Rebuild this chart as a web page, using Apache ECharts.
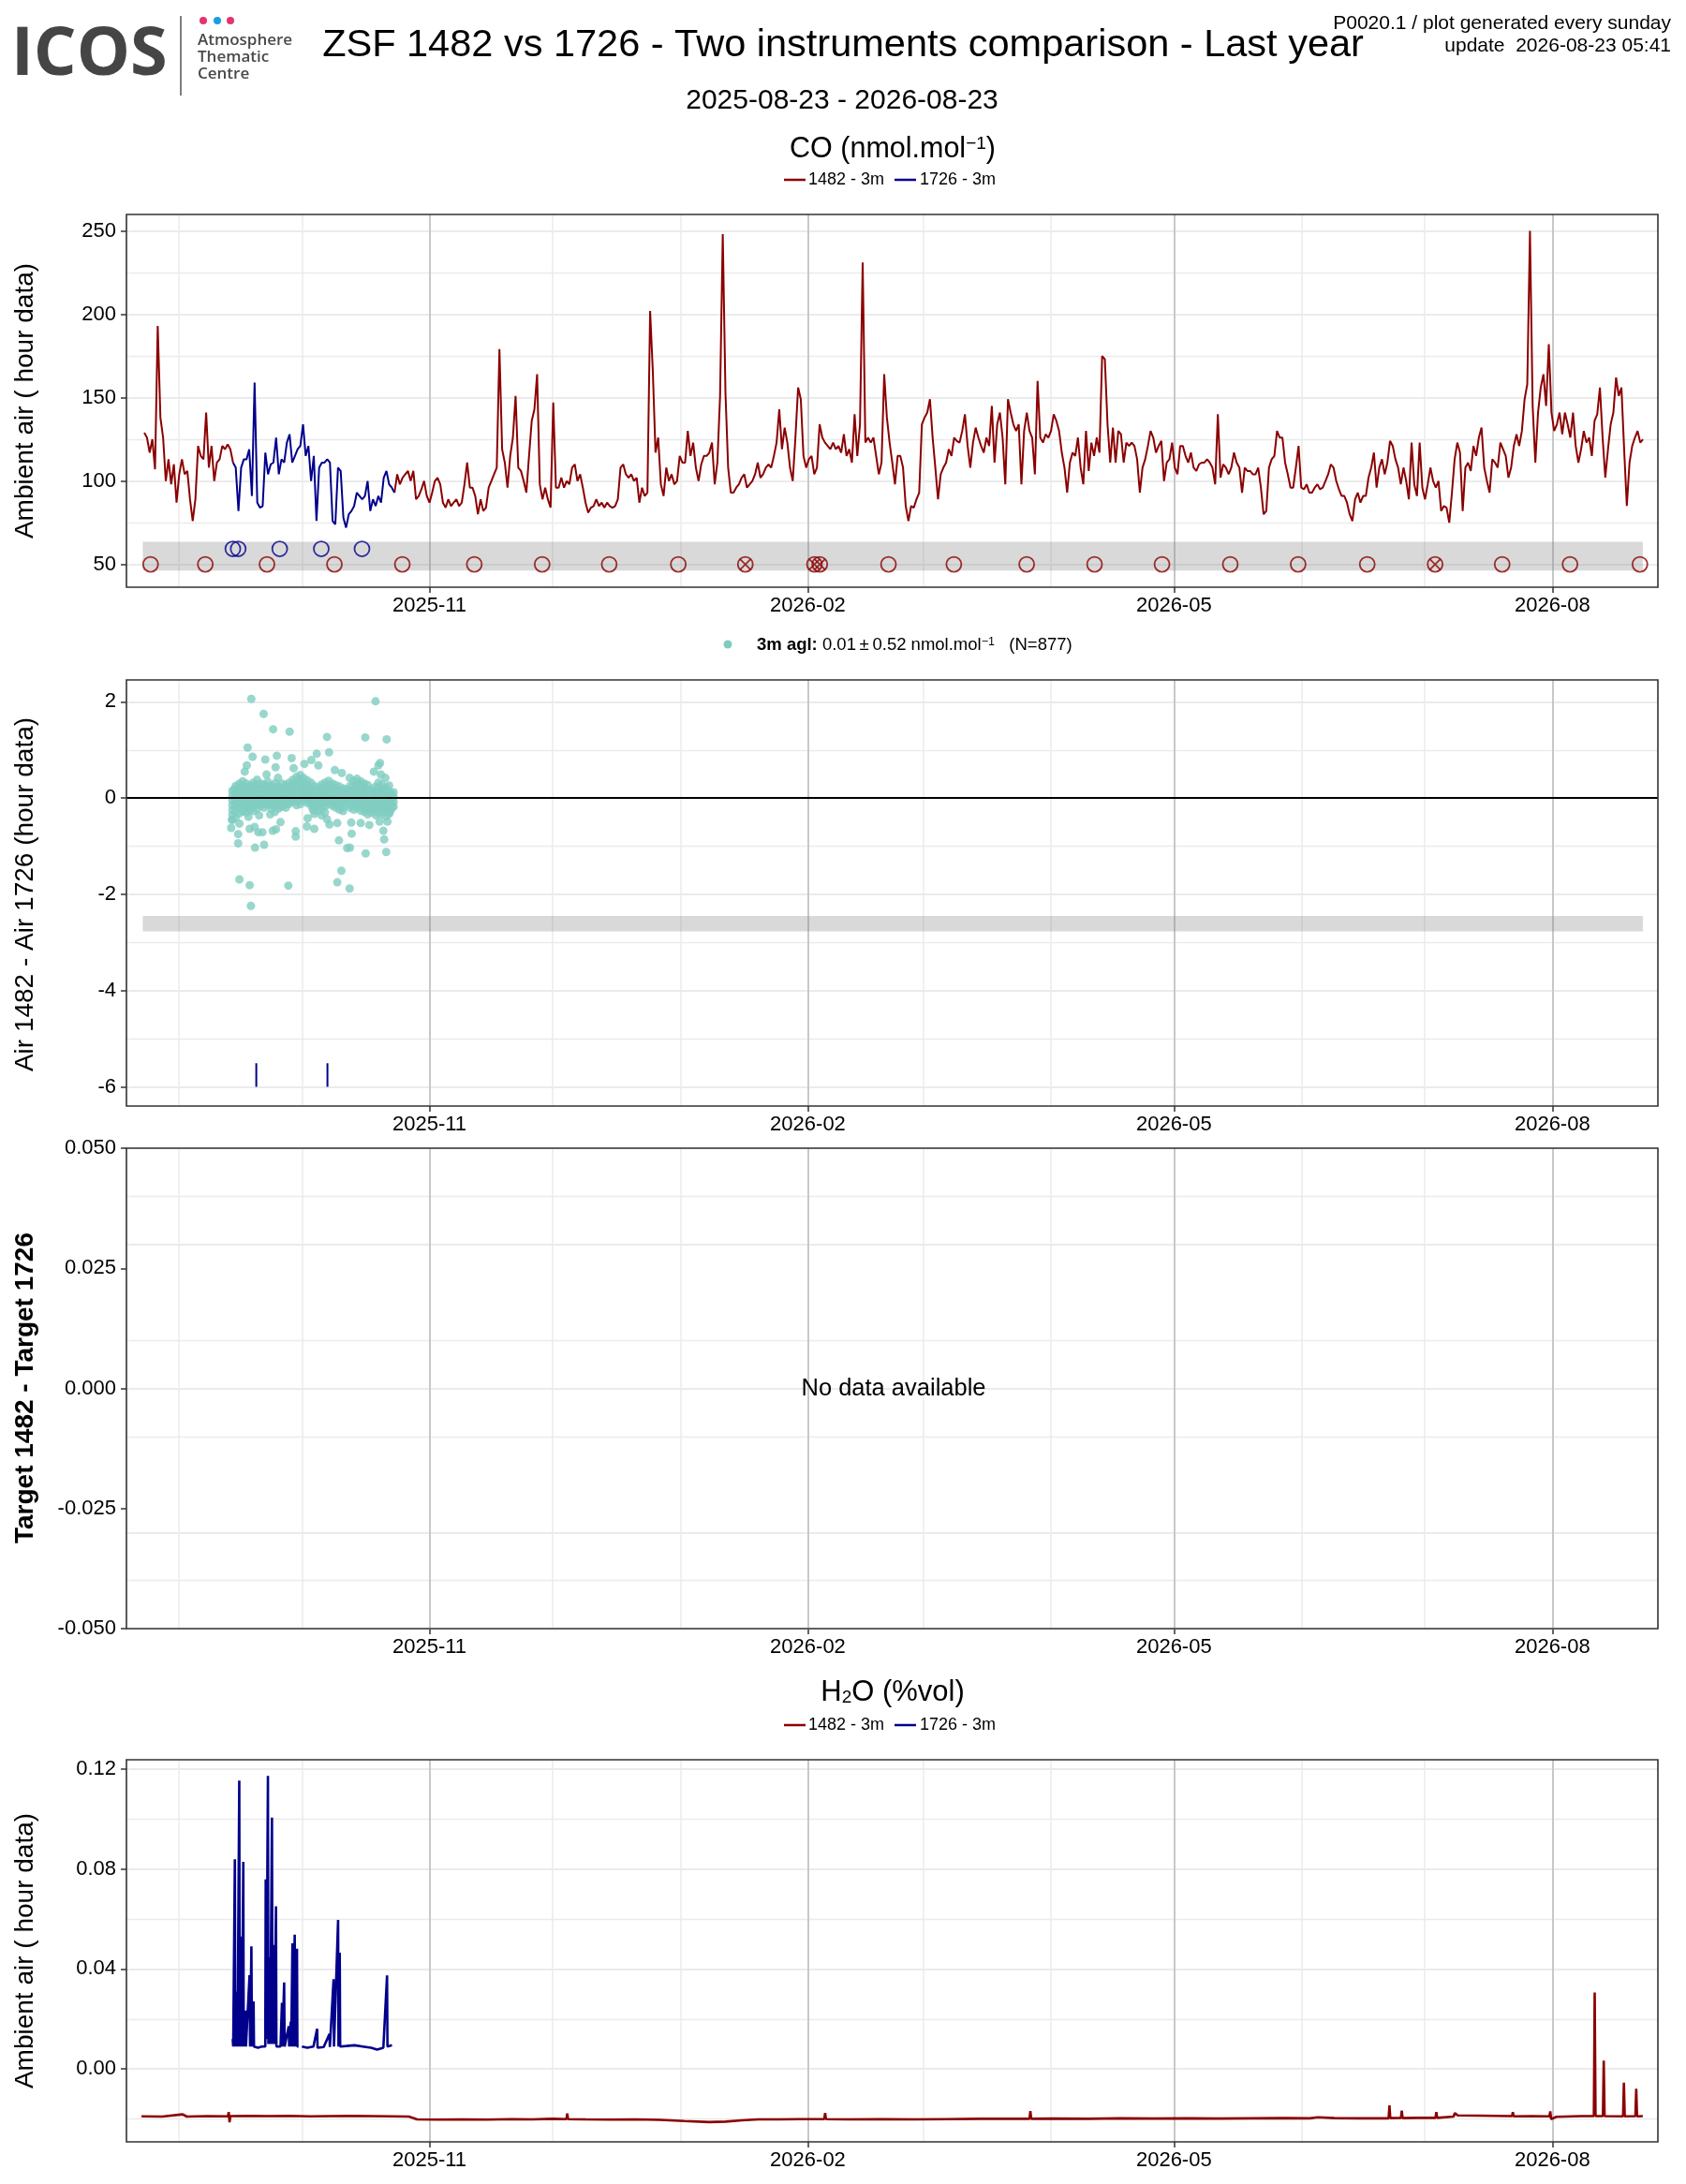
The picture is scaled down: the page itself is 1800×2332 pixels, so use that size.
<!DOCTYPE html>
<html>
<head>
<meta charset="utf-8">
<title>ZSF 1482 vs 1726</title>
<script src="https://cdn.jsdelivr.net/npm/echarts@6/dist/echarts.min.js"></script>
<style>
  html, body { margin: 0; padding: 0; background: #fff; }
  #chart { width: 1800px; height: 2332px; }
</style>
</head>
<body>
<div id="chart"></div>
<script>
var FONT = '"Liberation Sans", Arial, Helvetica, sans-serif';
var RED = '#8b0000', BLUE = '#00008b', TEAL = '#7fcdc0';
var DAY = 86400000, HOUR = 3600000;

// time frame
var PERIOD_START = Date.UTC(2025, 7, 23);          // 2025-08-23
var OVERLAP_START = Date.UTC(2025, 8, 13, 19);     // both instruments running
var X_MIN = Date.UTC(2025, 7, 19, 8);
var X_MAX = Date.UTC(2026, 7, 26, 16);
var xTickMonths = ['2025-11', '2026-02', '2026-05', '2026-08'];
var gridMonths = ['2025-09', '2025-10', '2025-11', '2025-12', '2026-01', '2026-02',
                  '2026-03', '2026-04', '2026-05', '2026-06', '2026-07', '2026-08'];

// CO ambient air, one reading every CO_STEP_H hours from CO_T0
var CO_T0 = Date.UTC(2025, 7, 23, 16);
var CO_STEP_H = 15.7;
var CO_1726_OFFSET = 33;   // index of first 1726 reading
var CO_1482B_OFFSET = 93;  // index where 1482 trace shows again
var co1482A = [129,126,117,125,107,193,138,126,100,113,98,110,87,104,113,104,106,89,76,89,
  121,115,113,141,108,121,100,111,113,121,119,122,119,111];
var co1726 = [111,108,82,108,113,113,119,91,159,87,84,85,117,104,110,111,126,104,113,111,
  123,128,111,115,119,121,134,115,121,100,115,76,108,111,111,113,111,76,74,108,
  106,78,72,80,82,85,93,91,89,91,100,82,89,85,91,87,102,106,98,96,93];
var co1482B = [93,104,98,102,104,106,100,106,89,91,95,100,91,87,93,100,102,98,87,84,
  89,85,87,89,85,87,98,111,96,96,91,80,89,82,84,96,100,104,108,179,
  119,111,96,115,126,151,108,106,100,93,115,136,143,164,98,89,96,89,84,147,
  96,96,102,96,100,98,108,110,100,104,96,87,81,84,85,89,85,87,84,87,
  85,84,85,89,108,110,104,102,104,100,102,87,96,91,93,202,166,117,126,98,
  91,108,100,104,98,100,115,111,111,130,115,123,108,100,110,115,115,117,123,98,
  111,151,248,153,108,93,93,96,98,102,104,96,98,100,104,111,102,104,108,110,
  108,115,123,143,119,132,123,108,100,126,156,149,115,108,113,115,104,108,134,126,
  123,121,119,123,119,121,117,128,
  115,119,111,140,115,134,231,123,126,123,126,115,104,111,164,138,123,111,98,115,
  115,108,85,76,85,84,89,93,134,138,141,149,126,108,89,104,108,111,119,115,
  126,124,123,130,140,121,108,123,132,126,121,117,126,121,145,111,134,141,126,98,
  149,141,134,130,134,98,130,141,130,126,104,160,126,123,128,126,130,140,136,130,
  117,108,93,111,117,115,126,108,98,130,106,123,115,126,117,175,173,134,111,132,
  111,130,128,111,123,121,123,121,113,93,108,113,121,130,126,117,121,124,100,111,
  113,123,108,104,121,121,115,111,117,108,106,110,111,111,113,111,108,98,140,102,
  110,108,104,108,117,111,108,93,108,106,106,104,104,108,96,80,82,108,113,115,
  130,126,126,111,104,96,96,108,121,96,95,98,93,93,96,98,95,96,100,104,
  110,108,100,95,91,91,87,80,76,89,93,87,91,91,102,108,117,96,108,113,
  104,111,124,121,113,108,98,108,100,89,123,98,91,123,96,89,98,108,100,96,
  100,82,85,84,75,93,113,123,117,82,108,111,106,121,115,126,132,108,100,93,
  113,111,108,123,119,115,102,108,121,128,121,130,149,158,250,145,111,141,156,164,
  145,182,141,130,134,141,128,141,134,126,141,121,111,119,130,123,126,115,136,140,
  156,126,102,119,134,141,162,151,156,119,85,111,121,126,130,123,125];

// calibration / target injections (days after PERIOD_START)
var cal1482Days = [2.2, 15.5, 30.5, 46.9, 63.4, 80.9, 97.4, 113.7, 130.5, 146.8, 163.6, 164.9,
  181.6, 197.5, 215.2, 231.7, 248.1, 264.7, 281.2, 298.0, 314.5, 330.8, 347.3, 364.3];
var cal1482Flagged = [146.8, 163.6, 164.9, 314.5];
var cal1726Days = [22.2, 23.5, 33.6, 43.7, 53.6];
var cal1482Level = 50, cal1726Level = 59.3;
var bandDays = [0.3, 365];
var coBand = [46.2, 63.6];
var diffBand = [-2.77, -2.45];

// Air 1482 - Air 1726, days after OVERLAP_START
var diffOutliers = [[4.9,2.06],[7.9,1.75],[10.2,1.43],[14.2,1.38],[23.3,1.27],[23.8,0.95],[32.6,1.26],
  [35.1,2.01],[37.8,1.22],[4.0,1.05],[5.2,0.86],[8.3,0.80],[11.1,0.88],[14.7,0.83],[15.2,0.62],
  [10.8,0.64],[20.8,0.92],[19.5,0.79],[17.8,0.71],[21.2,0.68],[36.2,0.73],[35.8,0.68],[34.7,0.55],
  [25.2,0.58],[26.9,0.52],[28.8,0.42],[3.8,0.68],[3.3,0.55],[0.8,0.19],[8.6,0.49],[11.4,0.42],
  [36.4,0.49],[37.5,0.42],[38.4,0.26],
  [0.0,-0.62],[0.2,-0.45],[1.7,-0.75],[1.7,-0.94],[2.0,-0.53],[4.2,-0.39],[4.5,-0.64],[5.7,-0.60],
  [5.8,-1.03],[6.6,-0.71],[7.6,-0.71],[8.0,-0.97],[6.8,-0.36],[9.5,-0.34],[10.6,-0.29],[10.1,-0.68],
  [10.9,-0.65],[12.0,-0.50],[15.7,-0.69],[15.7,-0.80],[18.6,-0.42],[18.4,-0.59],[20.2,-0.64],
  [19.8,-0.23],[23.3,-0.44],[23.9,-0.55],[25.8,-0.52],[26.2,-0.88],[28.2,-1.04],[28.9,-1.03],
  [29.3,-0.74],[29.2,-0.51],[26.8,-1.51],[25.8,-1.75],[28.8,-1.88],[31.5,-0.52],[33.6,-0.56],
  [32.7,-1.15],[35.2,-0.36],[36.1,-0.49],[37.0,-0.68],[37.2,-0.86],[37.7,-1.12],[38.0,-0.49],
  [2.0,-1.69],[4.5,-1.81],[13.9,-1.82],[4.8,-2.24],[38.6,-0.29],[39.1,-0.16],[4.2,-0.19]];
var diffCoreDays = [0.3,1.1,2.0,2.8,3.7,4.6,5.4,6.3,7.2,8.0,8.9,9.8,10.7,11.5,12.4,13.3,14.1,15.0,
  15.9,16.8,17.6,18.5,19.4,20.2,21.1,22.0,22.8,23.7,24.6,25.4,26.3,27.2,28.0,28.9,29.8,30.6,
  31.5,32.4,33.2,34.1,35.0,35.8,36.7,37.6,38.4,39.0,39.5];
var diffCoreVals = [
  [0.15,0.05,-0.05,-0.15,-0.25,-0.35,-0.45], [0.25,0.15,0.05,-0.05,-0.15,-0.25,-0.4],
  [0.3,0.2,0.1,0.0,-0.1,-0.2,-0.32], [0.35,0.25,0.15,0.05,-0.05,-0.15,-0.28],
  [0.3,0.2,0.1,0.0,-0.1,-0.2,-0.3], [0.26,0.16,0.06,-0.04,-0.14,-0.24],
  [0.32,0.22,0.12,0.02,-0.08,-0.18,-0.27], [0.38,0.28,0.18,0.08,-0.02,-0.12,-0.22],
  [0.3,0.2,0.1,0.0,-0.1,-0.16], [0.28,0.18,0.08,-0.02,-0.12,-0.2],
  [0.34,0.24,0.14,0.04,-0.06,-0.14], [0.26,0.16,0.06,-0.04,-0.14,-0.22],
  [0.31,0.21,0.11,0.01,-0.09,-0.15], [0.24,0.14,0.04,-0.06,-0.16,-0.22],
  [0.3,0.2,0.1,0.0,-0.1,-0.18], [0.27,0.17,0.07,-0.03,-0.13,-0.2],
  [0.32,0.22,0.12,0.02,-0.08,-0.12], [0.38,0.28,0.18,0.08,-0.02,-0.08],
  [0.44,0.34,0.24,0.14,0.04,-0.06,-0.15], [0.48,0.38,0.28,0.18,0.08,-0.02,-0.13],
  [0.42,0.32,0.22,0.12,0.02,-0.05], [0.37,0.27,0.17,0.07,-0.03,-0.1],
  [0.32,0.22,0.12,0.02,-0.08,-0.15], [0.25,0.15,0.05,-0.05,-0.15,-0.25,-0.33],
  [0.22,0.12,0.02,-0.08,-0.18,-0.27], [0.28,0.18,0.08,-0.02,-0.12,-0.22,-0.36],
  [0.32,0.22,0.12,0.02,-0.08,-0.18,-0.3], [0.36,0.26,0.16,0.06,-0.04,-0.12],
  [0.3,0.2,0.1,0.0,-0.1,-0.16], [0.27,0.17,0.07,-0.03,-0.13,-0.2],
  [0.24,0.14,0.04,-0.06,-0.16,-0.24], [0.2,0.1,0.0,-0.1,-0.2,-0.27],
  [0.18,0.08,-0.02,-0.1], [0.25,0.15,0.05,-0.05,-0.15,-0.2],
  [0.36,0.26,0.16,0.06,-0.04,-0.14,-0.24], [0.4,0.3,0.2,0.1,0.0,-0.1,-0.21],
  [0.35,0.25,0.15,0.05,-0.05,-0.15,-0.26], [0.3,0.2,0.1,0.0,-0.1,-0.2,-0.29],
  [0.27,0.17,0.07,-0.03,-0.13,-0.23,-0.34], [0.17,0.07,-0.03,-0.13,-0.23,-0.3],
  [0.23,0.13,0.03,-0.07,-0.17,-0.24], [0.32,0.22,0.12,0.02,-0.08,-0.18,-0.31],
  [0.28,0.18,0.08,-0.02,-0.12,-0.22,-0.33], [0.22,0.12,0.02,-0.08,-0.18,-0.28,-0.38],
  [0.14,0.04,-0.06,-0.16,-0.26,-0.33], [0.08,-0.02,-0.12,-0.22], [0.12,0.02,-0.08,-0.18]];
var rugDays = [27.9, 45.2];     // days after PERIOD_START
var rugRange = [-6.0, -5.51];

// H2O, [days after start, %vol]
var h2o1482 = [[0,-0.0189],[5,-0.0190],[10,-0.0181],[11,-0.0190],[16,-0.0188],[21.0,-0.0189],
  [21.2,-0.0172],[21.4,-0.0213],[21.6,-0.0188],[26,-0.0187],[31,-0.0188],[36,-0.0187],[41,-0.0189],
  [46,-0.0188],[51,-0.0187],[56,-0.0188],[61,-0.0189],[65,-0.0190],[67,-0.0201],[72,-0.0202],
  [78,-0.0201],[84,-0.0202],[90,-0.0200],[95,-0.0201],[100,-0.0199],[103.3,-0.0200],[103.5,-0.0178],
  [103.7,-0.0200],[108,-0.0201],[114,-0.0202],[120,-0.0201],[126,-0.0203],[132,-0.0208],
  [138,-0.0212],[142,-0.0210],[146,-0.0205],[150,-0.0201],[155,-0.0201],[160,-0.0200],
  [166.0,-0.0200],[166.2,-0.0176],[166.4,-0.0200],[172,-0.0201],[180,-0.0200],[188,-0.0201],
  [196,-0.0200],[204,-0.0199],[210,-0.0199],[215.9,-0.0199],[216.1,-0.0168],[216.3,-0.0199],
  [222,-0.0198],[230,-0.0199],[238,-0.0197],[246,-0.0198],[254,-0.0197],[262,-0.0198],
  [270,-0.0197],[278,-0.0196],[284,-0.0197],[286,-0.0193],[290,-0.0196],[296,-0.0197],
  [303.2,-0.0197],[303.4,-0.0145],[303.6,-0.0196],[306.2,-0.0195],[306.4,-0.0166],[306.6,-0.0196],
  [310,-0.0195],[314.6,-0.0195],[314.8,-0.0172],[315,-0.0195],[319,-0.0190],[319.3,-0.0176],
  [320,-0.0185],[325,-0.0186],[333.2,-0.0188],[333.4,-0.0172],[333.6,-0.0189],[338,-0.0188],
  [342.3,-0.0189],[342.5,-0.0169],[342.7,-0.0200],[344,-0.0191],[350,-0.0188],[353.1,-0.0188],
  [353.3,0.0306],[353.5,-0.0188],[355.3,-0.0188],[355.5,0.0034],[355.7,-0.0188],[360.2,-0.0189],
  [360.4,-0.0054],[360.6,-0.0189],[363.2,-0.0188],[363.4,-0.0079],[363.6,-0.0189],[365,-0.0188]];
var h2o1726 = [[0.38,0.012],[0.5,0.009],[0.9,0.0838],[1.0,0.009],[1.2,0.009],[1.44,0.031],
  [1.55,0.009],[1.97,0.1153],[2.08,0.009],[2.5,0.053],[2.6,0.009],[2.95,0.0828],[3.05,0.009],
  [3.48,0.0234],[3.6,0.009],[4.0,0.009],[4.47,0.0375],[4.6,0.009],[4.92,0.049],[5.05,0.009],
  [5.45,0.027],[5.55,0.009],[6.5,0.0085],[7.5,0.009],[8.3,0.009],[8.4,0.0758],[8.55,0.012],
  [8.94,0.1171],[9.05,0.010],[9.39,0.0446],[9.5,0.010],[9.92,0.1005],[10.05,0.010],[10.38,0.0496],
  [10.5,0.010],[10.9,0.065],[11.0,0.009],[12.0,0.009],[12.35,0.0265],[12.45,0.009],[12.88,0.0346],
  [13.0,0.009],[14.0,0.0171],[14.1,0.009],[14.5,0.019],[14.6,0.009],[14.9,0.0502],[15.0,0.009],
  [15.45,0.0537],[15.55,0.009],[16.0,0.0481],[16.1,0.009],[16.36,0.009],[16.8,null],
  [17.2,0.009],[18.5,0.0085],[20.0,0.009],[20.9,0.0161],[21.0,0.0085],[22.5,0.0088],
  [23.9,0.014],[24.0,0.0088],[24.9,0.0359],[25.0,0.009],[26.0,0.0596],[26.1,0.009],[26.4,0.0465],
  [26.5,0.009],[28,0.0092],[30,0.0095],[32,0.009],[34,0.0085],[35.5,0.0078],[37,0.0085],
  [37.9,0.0374],[38.0,0.009],[39.1,0.0095]];

// ---------- helpers ----------
function monthTs(s) {
  var p = s.split('-');
  return Date.UTC(+p[0], +p[1] - 1, 1);
}
var xTicks = xTickMonths.map(monthTs);
var xGrid = gridMonths.map(monthTs);

function monthLabel(v) {
  var i = xTicks.indexOf(v);
  return i >= 0 ? xTickMonths[i] : '';
}

var grids = [
  { left: 135, right: 30, top: 229, height: 398 },
  { left: 135, right: 30, top: 726, height: 455 },
  { left: 135, right: 30, top: 1226, height: 513 },
  { left: 135, right: 30, top: 1879, height: 408 }
];

function xAxisFor(g) {
  return {
    type: 'value', gridIndex: g, min: X_MIN, max: X_MAX,
    axisLine: { show: false, onZero: false },
    splitLine: { show: false },
    axisTick: { show: true, customValues: xTicks, length: 6, lineStyle: { color: '#333', width: 1.5 } },
    axisLabel: { customValues: xTicks, formatter: monthLabel, fontSize: 22, fontFamily: FONT, color: '#000', margin: 9 }
  };
}

function yAxisFor(g, min, max, ticks, fmt) {
  return {
    type: 'value', gridIndex: g, min: min, max: max,
    axisLine: { show: false, onZero: false },
    splitLine: { show: false },
    axisTick: { show: true, customValues: ticks, length: 6, lineStyle: { color: '#333', width: 1.5 } },
    axisLabel: { customValues: ticks, formatter: fmt, fontSize: 22, fontFamily: FONT, color: '#000', margin: 11 }
  };
}

function gridLineSeries(g, yMajor, yMinor) {
  var d = [];
  yMinor.forEach(function (v) { d.push({ yAxis: v, lineStyle: { color: '#ebebeb', width: 1.3, type: 'solid' } }); });
  yMajor.forEach(function (v) { d.push({ yAxis: v, lineStyle: { color: '#ebebeb', width: 2, type: 'solid' } }); });
  xGrid.forEach(function (t) {
    var major = xTicks.indexOf(t) >= 0;
    d.push({ xAxis: t, lineStyle: { color: major ? '#c8c8c8' : '#ebebeb', width: major ? 2 : 1.5, type: 'solid' } });
  });
  return {
    type: 'line', xAxisIndex: g, yAxisIndex: g, data: [], silent: true, z: 1,
    markLine: { z: 1, silent: true, symbol: ['none', 'none'], label: { show: false }, animation: false,
      emphasis: { disabled: true }, data: d }
  };
}

function bandSeries(g, range) {
  return {
    type: 'line', xAxisIndex: g, yAxisIndex: g, data: [], silent: true, z: 2,
    markArea: { z: 2, silent: true, animation: false, itemStyle: { color: 'rgba(128,128,128,0.3)' },
      emphasis: { disabled: true },
      data: [[{ xAxis: PERIOD_START + bandDays[0] * DAY, yAxis: range[0] },
              { xAxis: PERIOD_START + bandDays[1] * DAY, yAxis: range[1] }]] }
  };
}

function lineSeries(g, data, color, z, width) {
  return {
    type: 'line', xAxisIndex: g, yAxisIndex: g, data: data, z: z,
    showSymbol: false, symbol: 'none', silent: true, connectNulls: false,
    lineStyle: { color: color, width: width || 2 }, animation: false
  };
}

// ---------- build series data ----------
var stepMs = CO_STEP_H * HOUR;
var co1482Data = [];
co1482A.forEach(function (v, i) { co1482Data.push([CO_T0 + i * stepMs, v]); });
co1482Data.push([CO_T0 + (CO_1726_OFFSET + 1) * stepMs, null]);
co1482B.forEach(function (v, i) { co1482Data.push([CO_T0 + (CO_1482B_OFFSET + i) * stepMs, v]); });
var co1726Data = co1726.map(function (v, i) { return [CO_T0 + (CO_1726_OFFSET + i) * stepMs, v]; });

var calRedData = cal1482Days.map(function (d) { return [PERIOD_START + d * DAY, cal1482Level]; });
var calFlagData = cal1482Flagged.map(function (d) { return [PERIOD_START + d * DAY, cal1482Level]; });
var calBlueData = cal1726Days.map(function (d) { return [PERIOD_START + d * DAY, cal1726Level]; });

var diffData = diffOutliers.map(function (p) { return [OVERLAP_START + p[0] * DAY, p[1]]; });
diffCoreDays.forEach(function (d, i) {
  diffCoreVals[i].forEach(function (v) { diffData.push([OVERLAP_START + d * DAY, v]); });
});

var h2oRedData = h2o1482.map(function (p) { return [PERIOD_START + p[0] * DAY, p[1]]; });
var h2oBlueData = h2o1726.map(function (p) { return [OVERLAP_START + p[0] * DAY, p[1]]; });

var series = [
  gridLineSeries(0, [50, 100, 150, 200, 250], [75, 125, 175, 225]),
  bandSeries(0, coBand),
  lineSeries(0, co1482Data, RED, 3),
  lineSeries(0, co1726Data, BLUE, 4),
  {
    type: 'scatter', xAxisIndex: 0, yAxisIndex: 0, data: calRedData, z: 5, silent: true,
    symbol: 'circle', symbolSize: 16,
    itemStyle: { color: 'transparent', borderColor: RED, borderWidth: 1.8 }
  },
  {
    type: 'scatter', xAxisIndex: 0, yAxisIndex: 0, data: calFlagData, z: 5, silent: true,
    symbol: 'path://M0,0L10,10M10,0L0,10', symbolSize: 11,
    itemStyle: { color: 'transparent', borderColor: RED, borderWidth: 1.8 }
  },
  {
    type: 'scatter', xAxisIndex: 0, yAxisIndex: 0, data: calBlueData, z: 5, silent: true,
    symbol: 'circle', symbolSize: 16,
    itemStyle: { color: 'transparent', borderColor: BLUE, borderWidth: 1.8 }
  },

  gridLineSeries(1, [2, 0, -2, -4, -6], [1, -1, -3, -5]),
  bandSeries(1, diffBand),
  {
    type: 'scatter', xAxisIndex: 1, yAxisIndex: 1, data: diffData, z: 3, silent: true,
    symbol: 'circle', symbolSize: 9, itemStyle: { color: TEAL }
  },
  {
    type: 'line', xAxisIndex: 1, yAxisIndex: 1, data: [], silent: true, z: 4,
    markLine: { z: 4, silent: true, symbol: ['none', 'none'], label: { show: false }, animation: false,
      emphasis: { disabled: true },
      data: [{ yAxis: 0, lineStyle: { color: '#000', width: 2, type: 'solid' } }] }
  }
];
rugDays.forEach(function (d) {
  var t = PERIOD_START + d * DAY;
  series.push(lineSeries(1, [[t, rugRange[0]], [t, rugRange[1]]], BLUE, 4));
});
series.push(gridLineSeries(2, [0.05, 0.025, 0, -0.025, -0.05], [0.0375, 0.0125, -0.0125, -0.0375]));
series.push(gridLineSeries(3, [0.12, 0.08, 0.04, 0], [0.10, 0.06, 0.02, -0.02]));
series.push(lineSeries(3, h2oRedData, RED, 3, 2.6));
series.push(lineSeries(3, h2oBlueData, BLUE, 4, 2.6));

// ---------- titles and labels ----------
function txt(x, y, text, size, o) {
  o = o || {};
  return {
    type: 'text', x: x, y: y, rotation: o.rot || 0, silent: true, z: 20,
    style: {
      text: text, fill: o.color || '#000',
      fontSize: size, fontFamily: o.family || FONT, fontWeight: o.weight || 'normal',
      align: o.align || 'center', verticalAlign: 'middle',
      textAlign: o.align || 'center', textVerticalAlign: 'middle',
      rich: o.rich
    }
  };
}
function legendLine(x1, x2, y, color) {
  return { type: 'line', silent: true, z: 20, shape: { x1: x1, y1: y, x2: x2, y2: y },
    style: { stroke: color, lineWidth: 2.5 } };
}
var supRich = { s: { fontSize: 19, fontFamily: FONT, verticalAlign: 'top', lineHeight: 16 } };
var logoFont = '"Open Sans", sans-serif';
var graphics = [
  txt(12, 59, 'ICOS', 72, { align: 'left', weight: 'bold', family: logoFont, color: '#454545' }),
  { type: 'line', silent: true, shape: { x1: 193, y1: 17, x2: 193, y2: 102 }, style: { stroke: '#555', lineWidth: 1.5 } },
  { type: 'circle', silent: true, shape: { cx: 217, cy: 22, r: 4 }, style: { fill: '#e5336f' } },
  { type: 'circle', silent: true, shape: { cx: 232, cy: 22, r: 4 }, style: { fill: '#1a9fe0' } },
  { type: 'circle', silent: true, shape: { cx: 246, cy: 22, r: 4 }, style: { fill: '#e5336f' } },
  txt(211, 43, 'Atmosphere', 17, { align: 'left', weight: 600, family: logoFont, color: '#4a4a4a' }),
  txt(211, 61, 'Thematic', 17, { align: 'left', weight: 600, family: logoFont, color: '#4a4a4a' }),
  txt(211, 79, 'Centre', 17, { align: 'left', weight: 600, family: logoFont, color: '#4a4a4a' }),
  txt(900, 49, 'ZSF 1482 vs 1726 - Two instruments comparison - Last year', 41.5),
  txt(1784, 25, 'P0020.1 / plot generated every sunday', 21, { align: 'right' }),
  txt(1784, 49, 'update  2026-08-23 05:41', 21, { align: 'right' }),
  txt(899, 108, '2025-08-23 - 2026-08-23', 30),

  txt(953, 160, 'CO (nmol.mol{s|\u22121})', 30.5, { rich: supRich }),
  legendLine(837, 860, 192, RED), txt(863, 192, '1482 - 3m', 18, { align: 'left' }),
  legendLine(955, 978, 192, BLUE), txt(982, 192, '1726 - 3m', 18, { align: 'left' }),
  txt(27, 428, 'Ambient air ( hour data)', 28, { rot: Math.PI / 2 }),

  { type: 'circle', silent: true, shape: { cx: 777, cy: 688, r: 4.5 }, style: { fill: TEAL } },
  txt(808, 689, '{b|3m agl:} 0.01\u2009\u00b1\u20090.52 nmol.mol{s|\u22121}   (N=877)', 18.5, {
    align: 'left',
    rich: { b: { fontSize: 18.5, fontFamily: FONT, fontWeight: 'bold' },
            s: { fontSize: 12.5, fontFamily: FONT, verticalAlign: 'top', lineHeight: 11 } }
  }),
  txt(27, 955, 'Air 1482 - Air 1726 (hour data)', 28, { rot: Math.PI / 2 }),

  txt(27, 1482, 'Target 1482 - Target 1726', 28, { rot: Math.PI / 2, weight: 'bold' }),
  txt(954, 1483, 'No data available', 25.5),

  txt(953, 1807, 'H{d|2}O (%vol)', 31, { rich: { d: { fontSize: 19, fontFamily: FONT, verticalAlign: 'bottom', lineHeight: 9 } } }),
  legendLine(837, 860, 1842, RED), txt(863, 1842, '1482 - 3m', 18, { align: 'left' }),
  legendLine(955, 978, 1842, BLUE), txt(982, 1842, '1726 - 3m', 18, { align: 'left' }),
  txt(27, 2083, 'Ambient air ( hour data)', 28, { rot: Math.PI / 2 })
];

var chart = echarts.init(document.getElementById('chart'));
chart.setOption({
  backgroundColor: '#fff',
  animation: false,
  grid: grids.map(function (g) {
    return { left: g.left, right: g.right, top: g.top, height: g.height, show: true, z: 10,
      backgroundColor: 'transparent', borderColor: '#333', borderWidth: 1.6 };
  }),
  xAxis: [xAxisFor(0), xAxisFor(1), xAxisFor(2), xAxisFor(3)],
  yAxis: [
    yAxisFor(0, 36.3, 259.8, [50, 100, 150, 200, 250], function (v) { return String(v); }),
    yAxisFor(1, -6.40, 2.455, [-6, -4, -2, 0, 2], function (v) { return String(v); }),
    yAxisFor(2, -0.05, 0.05, [-0.05, -0.025, 0, 0.025, 0.05], function (v) { return v.toFixed(3); }),
    yAxisFor(3, -0.0291, 0.1236, [0, 0.04, 0.08, 0.12], function (v) { return v.toFixed(2); })
  ],
  series: series,
  graphic: graphics
});
window.addEventListener('resize', function () { chart.resize(); });
</script>
</body>
</html>
